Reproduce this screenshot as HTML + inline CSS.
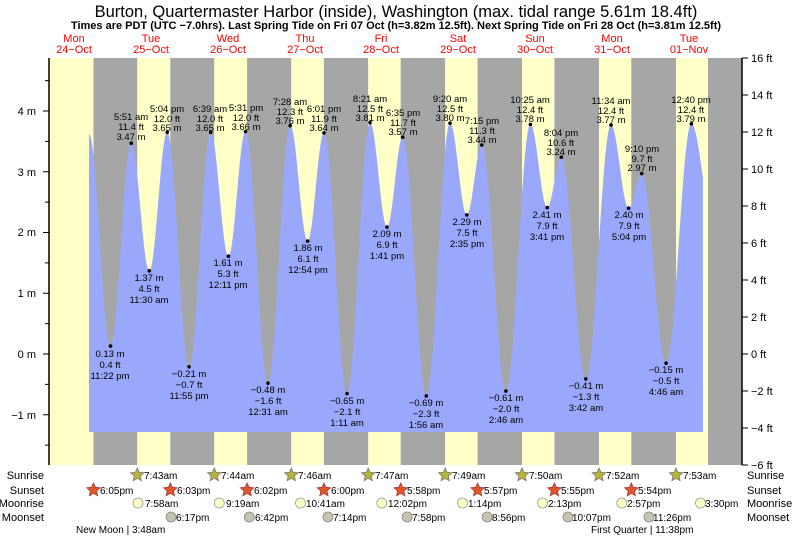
<!DOCTYPE html>
<html><head><meta charset="utf-8"><style>
body{margin:0;background:#fff;width:793px;height:539px;overflow:hidden}
svg{font-family:"Liberation Sans",sans-serif}
</style></head><body>
<svg id="s" width="793" height="539" viewBox="0 0 793 539" xmlns="http://www.w3.org/2000/svg">
<text x="396" y="17" font-size="16.5" text-anchor="middle">Burton, Quartermaster Harbor (inside), Washington (max. tidal range 5.61m 18.4ft)</text>
<text x="396" y="29" font-size="11" font-weight="bold" text-anchor="middle">Times are PDT (UTC −7.0hrs). Last Spring Tide on Fri 07 Oct (h=3.82m 12.5ft). Next Spring Tide on Fri 28 Oct (h=3.81m 12.5ft)</text>
<g font-size="11" fill="#f00" text-anchor="middle">
<text x="74" y="42">Mon</text><text x="74" y="53">24−Oct</text>
<text x="151" y="42">Tue</text><text x="151" y="53">25−Oct</text>
<text x="228" y="42">Wed</text><text x="228" y="53">26−Oct</text>
<text x="305" y="42">Thu</text><text x="305" y="53">27−Oct</text>
<text x="381" y="42">Fri</text><text x="381" y="53">28−Oct</text>
<text x="458" y="42">Sat</text><text x="458" y="53">29−Oct</text>
<text x="535" y="42">Sun</text><text x="535" y="53">30−Oct</text>
<text x="612" y="42">Mon</text><text x="612" y="53">31−Oct</text>
<text x="689" y="42">Tue</text><text x="689" y="53">01−Nov</text>
</g>
<g id="bands"></g>
<path id="tide" fill="#99a8fb" d=""/>
<g id="dots" fill="#000"></g>
<line x1="49" y1="58" x2="49" y2="465" stroke="#000" stroke-width="1.5"/>
<line x1="742" y1="58" x2="742" y2="465" stroke="#000" stroke-width="1.5"/>
<g id="ticks" stroke="#000"></g>
<g font-size="11" text-anchor="end">
<text x="36" y="115">4 m</text><text x="36" y="176">3 m</text><text x="36" y="236">2 m</text><text x="36" y="297">1 m</text><text x="36" y="358">0 m</text><text x="36" y="419">−1 m</text>
</g>
<g font-size="11">
<text x="751" y="62">16 ft</text><text x="751" y="99">14 ft</text><text x="751" y="136">12 ft</text><text x="751" y="173">10 ft</text><text x="751" y="210">8 ft</text><text x="751" y="247">6 ft</text><text x="751" y="284">4 ft</text><text x="751" y="321">2 ft</text><text x="751" y="358">0 ft</text><text x="751" y="395">−2 ft</text><text x="751" y="432">−4 ft</text><text x="751" y="469">−6 ft</text>
</g>
<g font-size="9.5" text-anchor="middle" fill="#000">
<text x="110" y="357">0.13 m</text><text x="110" y="368">0.4 ft</text><text x="110" y="379">11:22 pm</text>
<text x="131" y="120">5:51 am</text><text x="131" y="130">11.4 ft</text><text x="131" y="140">3.47 m</text>
<text x="149" y="281">1.37 m</text><text x="149" y="292">4.5 ft</text><text x="149" y="303">11:30 am</text>
<text x="167" y="112">5:04 pm</text><text x="167" y="122">12.0 ft</text><text x="167" y="131">3.65 m</text>
<text x="189" y="377">−0.21 m</text><text x="189" y="388">−0.7 ft</text><text x="189" y="399">11:55 pm</text>
<text x="210" y="112">6:39 am</text><text x="210" y="122">12.0 ft</text><text x="210" y="131">3.65 m</text>
<text x="228" y="266">1.61 m</text><text x="228" y="277">5.3 ft</text><text x="228" y="288">12:11 pm</text>
<text x="246" y="111">5:31 pm</text><text x="246" y="121">12.0 ft</text><text x="246" y="130">3.66 m</text>
<text x="268" y="393">−0.48 m</text><text x="268" y="404">−1.6 ft</text><text x="268" y="415">12:31 am</text>
<text x="290" y="105">7:28 am</text><text x="290" y="115">12.3 ft</text><text x="290" y="124">3.76 m</text>
<text x="308" y="251">1.86 m</text><text x="308" y="262">6.1 ft</text><text x="308" y="273">12:54 pm</text>
<text x="324" y="112">6:01 pm</text><text x="324" y="122">11.9 ft</text><text x="324" y="131">3.64 m</text>
<text x="347" y="404">−0.65 m</text><text x="347" y="415">−2.1 ft</text><text x="347" y="426">1:11 am</text>
<text x="370" y="102">8:21 am</text><text x="370" y="112">12.5 ft</text><text x="370" y="121">3.81 m</text>
<text x="387" y="237">2.09 m</text><text x="387" y="248">6.9 ft</text><text x="387" y="259">1:41 pm</text>
<text x="403" y="116">6:35 pm</text><text x="403" y="126">11.7 ft</text><text x="403" y="135">3.57 m</text>
<text x="426" y="406">−0.69 m</text><text x="426" y="417">−2.3 ft</text><text x="426" y="428">1:56 am</text>
<text x="450" y="102">9:20 am</text><text x="450" y="112">12.5 ft</text><text x="450" y="121">3.80 m</text>
<text x="467" y="225">2.29 m</text><text x="467" y="236">7.5 ft</text><text x="467" y="247">2:35 pm</text>
<text x="482" y="124">7:15 pm</text><text x="482" y="134">11.3 ft</text><text x="482" y="143">3.44 m</text>
<text x="506" y="401">−0.61 m</text><text x="506" y="412">−2.0 ft</text><text x="506" y="423">2:46 am</text>
<text x="530" y="103">10:25 am</text><text x="530" y="113">12.4 ft</text><text x="530" y="122">3.78 m</text>
<text x="547" y="218">2.41 m</text><text x="547" y="229">7.9 ft</text><text x="547" y="240">3:41 pm</text>
<text x="561" y="136">8:04 pm</text><text x="561" y="146">10.6 ft</text><text x="561" y="155">3.24 m</text>
<text x="586" y="389">−0.41 m</text><text x="586" y="400">−1.3 ft</text><text x="586" y="411">3:42 am</text>
<text x="611" y="104">11:34 am</text><text x="611" y="114">12.4 ft</text><text x="611" y="123">3.77 m</text>
<text x="629" y="218">2.40 m</text><text x="629" y="229">7.9 ft</text><text x="629" y="240">5:04 pm</text>
<text x="642" y="152">9:10 pm</text><text x="642" y="162">9.7 ft</text><text x="642" y="171">2.97 m</text>
<text x="666" y="373">−0.15 m</text><text x="666" y="384">−0.5 ft</text><text x="666" y="395">4:46 am</text>
<text x="691" y="103">12:40 pm</text><text x="691" y="113">12.4 ft</text><text x="691" y="122">3.79 m</text>
</g>
<g font-size="11" text-anchor="end">
<text x="44" y="479">Sunrise</text><text x="44" y="494">Sunset</text><text x="44" y="507">Moonrise</text><text x="44" y="521">Moonset</text>
</g>
<g font-size="11">
<text x="747" y="479">Sunrise</text><text x="747" y="494">Sunset</text><text x="747" y="507">Moonrise</text><text x="747" y="521">Moonset</text>
</g>
<g id="icons"></g>
<g font-size="10">
<text x="144" y="479">7:43am</text><text x="221" y="479">7:44am</text><text x="298" y="479">7:46am</text><text x="375" y="479">7:47am</text><text x="452" y="479">7:49am</text><text x="529" y="479">7:50am</text><text x="606" y="479">7:52am</text><text x="683" y="479">7:53am</text>
<text x="100" y="494">6:05pm</text><text x="177" y="494">6:03pm</text><text x="254" y="494">6:02pm</text><text x="331" y="494">6:00pm</text><text x="407" y="494">5:58pm</text><text x="484" y="494">5:57pm</text><text x="561" y="494">5:55pm</text><text x="638" y="494">5:54pm</text>
<text x="145" y="507">7:58am</text><text x="226" y="507">9:19am</text><text x="306" y="507">10:41am</text><text x="388" y="507">12:02pm</text><text x="468" y="507">1:14pm</text><text x="548" y="507">2:13pm</text><text x="627" y="507">2:57pm</text><text x="705" y="507">3:30pm</text>
<text x="176" y="521">6:17pm</text><text x="255" y="521">6:42pm</text><text x="333" y="521">7:14pm</text><text x="412" y="521">7:58pm</text><text x="492" y="521">8:56pm</text><text x="572" y="521">10:07pm</text><text x="653" y="521">11:26pm</text>
<text x="76" y="533">New Moon | 3:48am</text>
<text x="591" y="533">First Quarter | 11:38pm</text>
</g>
</svg>
<script>
const NS="http://www.w3.org/2000/svg";
function el(p,t,a){const e=document.createElementNS(NS,t);for(const k in a)e.setAttribute(k,a[k]);document.getElementById(p).appendChild(e);return e;}
const b=[49,93.5,137.3,170.3,214.3,247.1,291.3,323.9,368.2,400.7,445.2,477.6,522,554.4,599,631.3,676,708,742];
for(let i=0;i<b.length-1;i++)el("bands","rect",{x:b[i],y:58,width:b[i+1]-b[i],height:407,fill:i%2?"#a6a6a6":"#ffffc8"});
const P=[[89,3.62],[110.5,0.13],[131.2,3.47],[149.3,1.37],[167.2,3.65],[189.1,-0.21],[210.7,3.65],[228.4,1.61],[245.5,3.66],[268,-0.48],[290.2,3.76],[307.6,1.86],[324,3.64],[347,-0.65],[370,3.81],[387,2.09],[402.7,3.57],[426.3,-0.69],[450,3.80],[466.8,2.29],[481.8,3.44],[505.9,-0.61],[530.4,3.78],[547.2,2.41],[561.3,3.24],[585.8,-0.41],[611,3.77],[628.6,2.40],[641.7,2.97],[666.1,-0.15],[691.4,3.79],[712,2.3]];
const Y=h=>354-h*60.75;
let d="M89,432 ";
for(let i=0;i<P.length-1;i++){const[a,ha]=P[i],[c,hc]=P[i+1];for(let x=Math.max(a,89);x<=c;x+=0.5){if(x>703)break;const t=(x-a)/(c-a);const h=ha+(hc-ha)*(1-Math.cos(Math.PI*t))/2;d+="L"+x.toFixed(1)+","+Y(h).toFixed(1)+" ";}}
d+="L703,432Z";document.getElementById("tide").setAttribute("d",d);
P.slice(1,-1).forEach(([x,h])=>el("dots","circle",{cx:x,cy:Y(h),r:1.8}));
for(let m=-1.5;m<=4.5;m+=0.5)el("ticks","line",{x1:m%1===0?43:45,x2:49,y1:Y(m),y2:Y(m)});
for(let f=-6;f<=16;f+=2){const y=354-f*18.5;el("ticks","line",{x1:742,x2:748,y1:y,y2:y});}
function star(x,y,fill,stroke){let pts=[];for(let i=0;i<10;i++){const r=i%2?3.3:7,a=-Math.PI/2+i*Math.PI/5;pts.push((x+r*Math.cos(a)).toFixed(1)+","+(y+r*Math.sin(a)).toFixed(1));}el("icons","polygon",{points:pts.join(" "),fill,stroke,"stroke-width":0.8});}
[137.3,214.3,291.3,368.2,445.2,522,599,676].forEach(x=>star(x,475,"#b5b53a","#777"));
[93.5,170.3,247.1,323.9,400.7,477.6,554.4,631.3].forEach(x=>star(x,490,"#e0582a","#a33"));
[138,219.3,300.5,381.8,462.5,542.6,621.8,700.5].forEach(x=>el("icons","circle",{cx:x,cy:503,r:5,fill:"#ffffc8",stroke:"#999","stroke-width":0.8}));
[171.1,249.3,327.9,407.2,487.2,567.9,649].forEach(x=>el("icons","circle",{cx:x,cy:517,r:5,fill:"#c4c4b0",stroke:"#888","stroke-width":0.8}));
</script>
</body></html>
